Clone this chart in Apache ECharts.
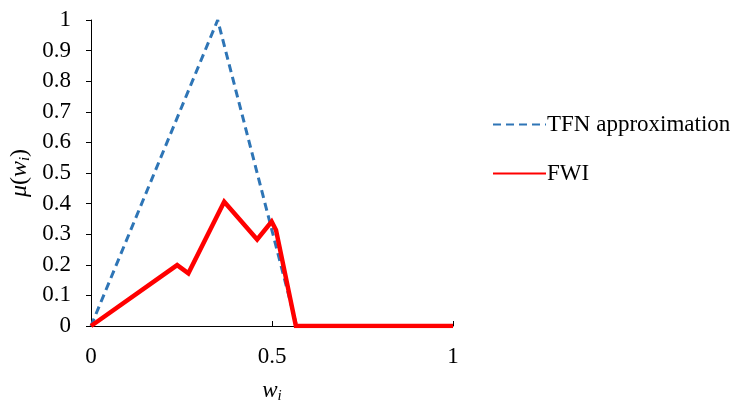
<!DOCTYPE html>
<html>
<head>
<meta charset="utf-8">
<script src="https://cdn.jsdelivr.net/npm/echarts@6/dist/echarts.min.js"></script>
<style>
  html, body { margin: 0; padding: 0; background: #fff; }
  #chart1 { width: 737px; height: 403px; }
</style>
</head>
<body>
<div id="chart1"></div>
<script>
// TFN approximation (triangular fuzzy number)
var tfnX = [0, 0.35, 0.568, 1];
var tfnY = [0, 1, 0, 0];

// FWI membership curve
var fwiX = [0, 0.238, 0.269, 0.368, 0.459, 0.499, 0.511, 0.566, 1];
var fwiY = [0, 0.199, 0.172, 0.406, 0.283, 0.341, 0.314, 0, 0];

var yTicks = ['0', '0.1', '0.2', '0.3', '0.4', '0.5', '0.6', '0.7', '0.8', '0.9', '1'];
var xTicks = ['0', '0.5', '1'];

function zip(xs, ys) { return xs.map(function (x, i) { return [x, ys[i]]; }); }

var font = '"Liberation Serif", "Times New Roman", serif';

var echart1 = echarts.init(document.getElementById('chart1'));

var option = {
  animation: false,
  backgroundColor: '#fff',
  textStyle: { fontFamily: font },
  grid: { left: 91, right: 284, top: 20, bottom: 77, outerBoundsMode: 'none', containLabel: false },
  legend: {
    orient: 'vertical',
    left: 487,
    top: 108,
    itemWidth: 53,
    itemHeight: 14,
    itemGap: 26,
    itemStyle: { opacity: 0 },
    textStyle: { fontFamily: font, fontSize: 23, color: '#000', padding: [0, 0, 0, -4] },
    data: ['TFN approximation', 'FWI']
  },
  xAxis: {
    type: 'value',
    min: 0, max: 1, interval: 0.5,
    axisLine: { lineStyle: { color: '#000', width: 1 } },
    axisTick: { show: true, inside: true, length: 5, lineStyle: { color: '#000' } },
    splitLine: { show: false },
    axisLabel: {
      margin: 19, fontSize: 23, color: '#000', fontFamily: font,
      formatter: function (v) { return xTicks[Math.round(v / 0.5)]; }
    },
    name: '{it|w}{sub|i}',
    nameLocation: 'middle',
    nameGap: 52,
    nameTextStyle: {
      rich: {
        it: { fontFamily: font, fontStyle: 'italic', fontSize: 23, color: '#000' },
        sub: { fontFamily: font, fontStyle: 'italic', fontSize: 15, color: '#000', padding: [11, 0, 0, 0] }
      }
    }
  },
  yAxis: {
    type: 'value',
    min: 0, max: 1, interval: 0.1,
    axisLine: { show: true, lineStyle: { color: '#000', width: 1 } },
    axisTick: { show: true, length: 5, lineStyle: { color: '#000' } },
    splitLine: { show: false },
    axisLabel: {
      margin: 20, fontSize: 23, color: '#000', fontFamily: font,
      formatter: function (v) { return yTicks[Math.round(v * 10)]; }
    },
    name: '{it|\u03bc}{n|(}{it|w}{sub|i}{n|)}',
    nameLocation: 'middle',
    nameGap: 58,
    nameRotate: 90,
    nameTextStyle: {
      rich: {
        it: { fontFamily: font, fontStyle: 'italic', fontSize: 24, color: '#000' },
        n: { fontFamily: font, fontSize: 24, color: '#000' },
        sub: { fontFamily: font, fontStyle: 'italic', fontSize: 15, color: '#000', padding: [11, 0, 0, 0] }
      }
    }
  },
  series: [
    {
      name: 'TFN approximation',
      type: 'line',
      symbol: 'none',
      z: 2,
      lineStyle: { color: '#2E75B6', width: 3, type: [8, 5] },
      itemStyle: { color: '#2E75B6' },
      data: zip(tfnX, tfnY)
    },
    {
      name: 'FWI',
      type: 'line',
      symbol: 'none',
      z: 3,
      lineStyle: { color: '#FF0000', width: 4.5, join: 'miter' },
      itemStyle: { color: '#FF0000' },
      data: zip(fwiX, fwiY)
    }
  ]
};

echart1.setOption(option);
</script>
</body>
</html>
